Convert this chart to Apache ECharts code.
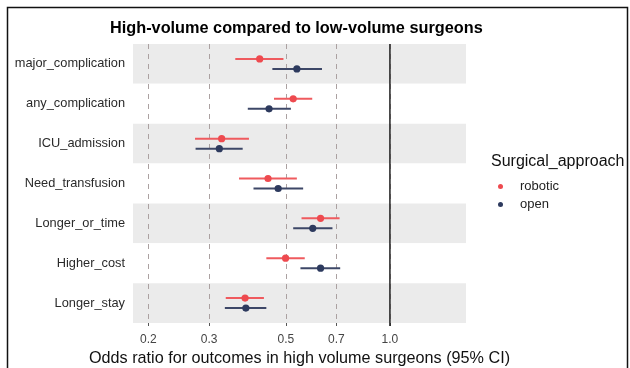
<!DOCTYPE html>
<html>
<head>
<meta charset="utf-8">
<script src="https://cdn.jsdelivr.net/npm/echarts@6/dist/echarts.min.js"></script>
<style>
  html, body { margin: 0; padding: 0; background: #ffffff; }
  #chart { width: 630px; height: 368px; }
</style>
</head>
<body>
<div id="chart"></div>
<script>
// Outcomes, top to bottom
const categories = ['major_complication', 'any_complication', 'ICU_admission', 'Need_transfusion', 'Longer_or_time', 'Higher_cost', 'Longer_stay'];

// Odds ratios with 95% confidence limits, robotic approach
const roboticOR   = [0.420, 0.525, 0.326, 0.444, 0.630, 0.499, 0.381];
const roboticLow  = [0.357, 0.462, 0.273, 0.366, 0.555, 0.439, 0.335];
const roboticHigh = [0.492, 0.596, 0.391, 0.538, 0.715, 0.567, 0.432];

// Odds ratios with 95% confidence limits, open approach
const openOR   = [0.538, 0.447, 0.321, 0.475, 0.598, 0.630, 0.383];
const openLow  = [0.457, 0.388, 0.274, 0.403, 0.525, 0.551, 0.333];
const openHigh = [0.636, 0.517, 0.375, 0.561, 0.682, 0.718, 0.439];

// Null-effect reference
const nullOR = [1.0];

// Reference ticks on the log odds-ratio axis
const tickValues = [0.2, 0.3, 0.5, 0.7, 1.0];
const tickLabels = ['0.2', '0.3', '0.5', '0.7', '1.0'];

const FONT = 'Liberation Sans, Arial, sans-serif';

function rows(low, high, est) {
  return categories.map((c, i) => [low[i], high[i], est[i], i]);
}

// Point estimate with horizontal CI bar, dodged vertically within its row
function pointRange(dodge, lineColor, pointColor) {
  return function (params, api) {
    const row = api.value(3);
    const a = api.coord([api.value(0), row]);
    const b = api.coord([api.value(1), row]);
    const p = api.coord([api.value(2), row]);
    return {
      type: 'group',
      children: [
        { type: 'line', shape: { x1: a[0], y1: a[1] + dodge, x2: b[0], y2: b[1] + dodge },
          style: { stroke: lineColor, lineWidth: 2 } },
        { type: 'circle', shape: { cx: p[0], cy: p[1] + dodge, r: 3.6 },
          style: { fill: pointColor } }
      ]
    };
  };
}

// Full-height vertical line at a given odds ratio
function nullLine(params, api) {
  const cs = params.coordSys;
  const p = api.coord([api.value(0), 0]);
  return {
    type: 'line',
    shape: { x1: p[0], y1: cs.y, x2: p[0], y2: cs.y + cs.height + 3 },
    style: { stroke: '#222222', lineWidth: 1.5 }
  };
}

const chart = echarts.init(document.getElementById('chart'), null, { renderer: 'canvas' });

chart.setOption({
  animation: false,
  backgroundColor: '#ffffff',
  textStyle: { fontFamily: FONT },
  title: {
    text: 'High-volume compared to low-volume surgeons',
    left: 105,
    top: 16,
    textStyle: { fontFamily: FONT, fontSize: 16.3, fontWeight: 'bold', color: '#000000' }
  },
  legend: {
    orient: 'vertical',
    left: 493,
    top: 175,
    itemWidth: 15,
    itemHeight: 5,
    itemGap: 5,
    icon: 'circle',
    textStyle: { fontFamily: FONT, fontSize: 13, color: '#222222', padding: [0, 0, 0, 7] },
    data: ['robotic', 'open']
  },
  grid: { left: 133, top: 44, width: 333, height: 279, containLabel: false, outerBoundsMode: 'none' },
  xAxis: {
    type: 'log',
    logBase: 10,
    min: 0.1806,
    max: 1.66,
    axisLine: { show: false },
    axisTick: { show: true, length: 3, lineStyle: { color: '#555555' }, customValues: tickValues },
    axisLabel: {
      customValues: tickValues,
      formatter: v => tickLabels[tickValues.findIndex(t => Math.abs(t - v) < 1e-6)] || '',
      fontFamily: FONT, fontSize: 12, color: '#444444', margin: 11
    },
    splitLine: { show: true, lineStyle: { color: '#aba1a1', type: [5, 5], width: 1 } },
    name: 'Odds ratio for outcomes in high volume surgeons (95% CI)',
    nameLocation: 'middle',
    nameGap: 20,
    nameTextStyle: { fontFamily: FONT, fontSize: 16.2, color: '#111111' }
  },
  yAxis: {
    type: 'category',
    data: categories,
    inverse: true,
    axisLine: { show: false },
    axisTick: { show: false },
    axisLabel: { fontFamily: FONT, fontSize: 12.8, color: '#2a2a2a', margin: 8 },
    splitLine: { show: false },
    splitArea: { show: true, areaStyle: { color: ['#ebebeb', '#ffffff'] } }
  },
  graphic: [
    { type: 'rect', shape: { x: 7.5, y: 7.5, width: 620, height: 400 },
      style: { fill: 'none', stroke: '#111111', lineWidth: 1.5 }, silent: true, z: 100 },
    { type: 'text', x: 491, y: 162,
      style: { text: 'Surgical_approach', fontFamily: FONT, fontSize: 16, fill: '#111111',
               textVerticalAlign: 'middle' } }
  ],
  series: [
    {
      name: 'null',
      type: 'custom',
      encode: { x: 0 },
      renderItem: nullLine,
      data: nullOR.map(v => [v]),
      silent: true,
      z: 2
    },
    {
      name: 'robotic',
      type: 'custom',
      itemStyle: { color: '#ee4a4f' },
      encode: { x: [0, 1, 2], y: 3 },
      renderItem: pointRange(-5, '#ef5a5e', '#ee4a4f'),
      data: rows(roboticLow, roboticHigh, roboticOR),
      z: 3
    },
    {
      name: 'open',
      type: 'custom',
      itemStyle: { color: '#2d3a5e' },
      encode: { x: [0, 1, 2], y: 3 },
      renderItem: pointRange(5, '#3d4767', '#2d3a5e'),
      data: rows(openLow, openHigh, openOR),
      z: 3
    }
  ]
});
</script>
</body>
</html>
